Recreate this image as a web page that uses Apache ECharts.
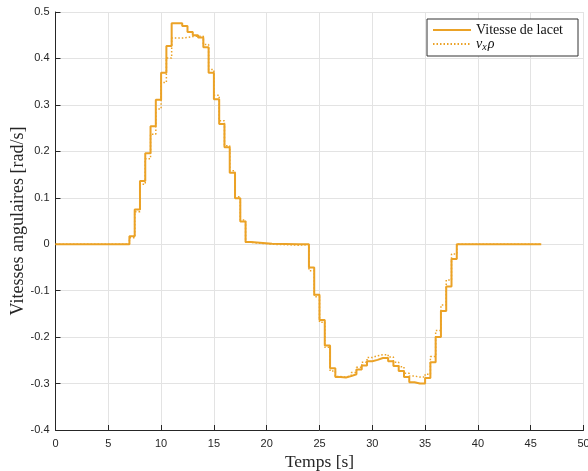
<!DOCTYPE html>
<html>
<head>
<meta charset="utf-8">
<script src="https://cdn.jsdelivr.net/npm/echarts@6/dist/echarts.min.js"></script>
<style>
html,body{margin:0;padding:0;background:#fff;}
#chart{width:588px;height:471px;}
</style>
</head>
<body>
<div id="chart"></div>
<script>
// Sample times [s]
const times = [0, 7, 7.5, 8, 8.5, 9, 9.5, 10, 10.5, 11, 11.5, 12, 12.5, 13, 13.5, 14, 14.5, 15, 15.5, 16, 16.5, 17, 17.5, 18, 18.5, 20.5, 23,
  24, 24.5, 25, 25.5, 26, 26.5, 27, 27.5, 28, 28.5, 29, 29.5, 30, 30.5, 31, 31.5, 32, 32.5, 33, 33.5, 34, 34.5, 35, 35.5, 36, 36.5, 37, 37.5, 38, 46];
// Vitesse de lacet [rad/s]
const yawRate = [0, 0.017, 0.075, 0.136, 0.196, 0.254, 0.311, 0.369, 0.427, 0.476, 0.476, 0.470, 0.457, 0.450, 0.445, 0.424, 0.369, 0.312, 0.259, 0.209, 0.154, 0.099, 0.049, 0.005, 0.001, 0.000, 0.000,
  -0.050, -0.109, -0.163, -0.218, -0.267, -0.286, -0.287, -0.284, -0.280, -0.270, -0.261, -0.252, -0.249, -0.245, -0.245, -0.252, -0.262, -0.273, -0.286, -0.297, -0.300, -0.300, -0.288, -0.254, -0.200, -0.144, -0.091, -0.032, 0, 0];
// v_x * rho [rad/s]
const vxRho = [0, 0.014, 0.070, 0.129, 0.184, 0.237, 0.291, 0.348, 0.401, 0.444, 0.444, 0.445, 0.447, 0.448, 0.448, 0.430, 0.376, 0.321, 0.266, 0.212, 0.158, 0.102, 0.052, 0.004, 0.000, -0.002, -0.001,
  -0.057, -0.113, -0.168, -0.222, -0.273, -0.285, -0.286, -0.283, -0.276, -0.265, -0.254, -0.244, -0.240, -0.238, -0.238, -0.243, -0.254, -0.264, -0.278, -0.284, -0.286, -0.286, -0.280, -0.242, -0.186, -0.131, -0.077, -0.021, 0, 0];

const seriesNames = ['Vitesse de lacet', 'v_x ρ'];
const xTicks = ['0','5','10','15','20','25','30','35','40','45','50'];
const yTicks = ['-0.4','-0.3','-0.2','-0.1','0','0.1','0.2','0.3','0.4','0.5'];

const COLOR = '#EBA226';
const AX = '#262626';
const GRID = '#e3e3e3';
const SERIF = '"Liberation Serif", "DejaVu Serif", serif';
const SANS = '"Liberation Sans", Arial, Helvetica, sans-serif';

const chart = echarts.init(document.getElementById('chart'), null, {renderer: 'canvas'});
chart.setOption({
  animation: false,
  backgroundColor: '#fff',
  grid: {left: 55.5, right: 4.5, top: 12, bottom: 41, containLabel: false, outerBoundsMode: 'none'},
  legend: {
    left: 427, top: 19, orient: 'vertical',
    data: seriesNames,
    backgroundColor: '#fff', borderColor: '#333', borderWidth: 1,
    padding: [4, 15, 4, 5], itemGap: 0, itemWidth: 38, itemHeight: 14,
    itemStyle: {opacity: 0},
    textStyle: {
      fontFamily: SERIF, fontSize: 14, color: '#111', lineHeight: 14,
      rich: {
        i: {fontFamily: SERIF, fontStyle: 'italic', fontSize: 14, color: '#111'},
        s: {fontFamily: SERIF, fontStyle: 'italic', fontSize: 10, color: '#111', padding: [6, 1, 0, 0]}
      }
    },
    formatter: function (name) {
      if (name === seriesNames[1]) return '{i|v}{s|x}{i|ρ}';
      return name;
    }
  },
  xAxis: {
    type: 'value', min: 0, max: 50, interval: 5,
    name: 'Temps [s]', nameLocation: 'middle', nameGap: 23, nameMoveOverlap: false,
    nameTextStyle: {fontFamily: SERIF, fontSize: 17.5, color: AX},
    axisLine: {show: true, onZero: false, lineStyle: {color: AX, width: 1}},
    axisTick: {show: true, inside: true, length: 5, lineStyle: {color: AX}},
    axisLabel: {color: AX, fontFamily: SANS, fontSize: 11, margin: 8,
      formatter: function (v) { return xTicks[Math.round(v / 5)]; }},
    splitLine: {show: true, lineStyle: {color: GRID, width: 1}}
  },
  yAxis: {
    type: 'value', min: -0.4, max: 0.5, interval: 0.1,
    name: 'Vitesses angulaires [rad/s]', nameLocation: 'middle', nameGap: 28, nameMoveOverlap: false,
    nameTextStyle: {fontFamily: SERIF, fontSize: 18, color: AX},
    axisLine: {show: true, onZero: false, lineStyle: {color: AX, width: 1}},
    axisTick: {show: true, inside: true, length: 5, lineStyle: {color: AX}},
    axisLabel: {color: AX, fontFamily: SANS, fontSize: 11, margin: 6,
      formatter: function (v) { return yTicks[Math.round(v * 10) + 4]; }},
    splitLine: {show: true, lineStyle: {color: GRID, width: 1}}
  },
  series: [
    {
      name: seriesNames[0], type: 'line', step: 'end', symbol: 'none',
      data: times.map((t, i) => [t, yawRate[i]]),
      lineStyle: {color: COLOR, width: 2}, itemStyle: {color: COLOR}, z: 2
    },
    {
      name: seriesNames[1], type: 'line', step: 'end', symbol: 'none',
      data: times.map((t, i) => [t, vxRho[i]]),
      lineStyle: {color: COLOR, width: 1.5, type: [1.5, 2]}, itemStyle: {color: COLOR}, z: 3
    }
  ]
});
</script>
</body>
</html>
